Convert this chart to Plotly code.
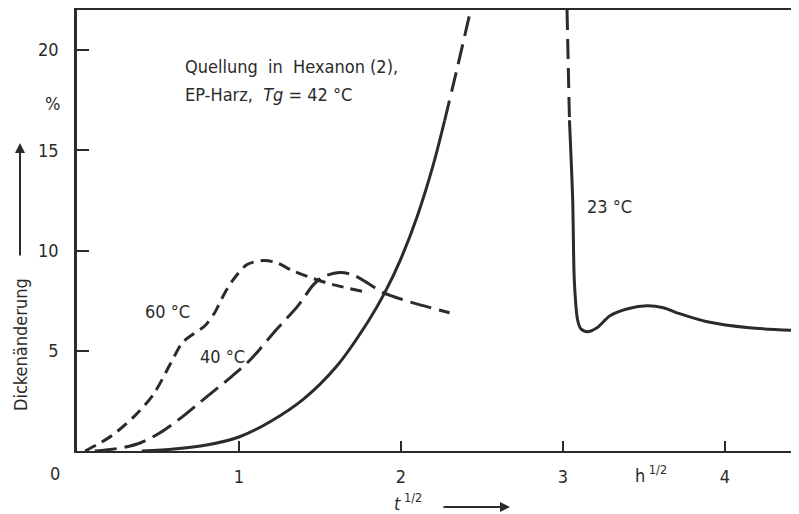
import plotly.graph_objects as go

# ---- data ----
x60 = [0.05, 0.12, 0.22, 0.35, 0.47, 0.58, 0.65, 0.72, 0.79, 0.85, 0.90, 0.96, 1.05, 1.15, 1.23, 1.33, 1.46, 1.58, 1.80]
y60 = [0.0, 0.3, 0.8, 1.7, 2.8, 4.4, 5.4, 5.85, 6.25, 6.9, 7.7, 8.5, 9.3, 9.5, 9.4, 9.0, 8.6, 8.3, 7.9]

x40 = [0.11, 0.27, 0.39, 0.51, 0.65, 0.80, 0.93, 1.07, 1.23, 1.36, 1.46, 1.52, 1.62, 1.70, 1.79, 1.89, 2.07, 2.30]
y40 = [0.0, 0.15, 0.4, 0.9, 1.7, 2.7, 3.55, 4.55, 6.05, 7.2, 8.3, 8.7, 8.9, 8.8, 8.4, 7.9, 7.4, 6.9]

x23a_solid = [0.40, 0.60, 0.80, 1.00, 1.20, 1.40, 1.60, 1.80, 1.90, 2.00, 2.10, 2.20, 2.27]
y23a_solid = [0.0, 0.1, 0.3, 0.7, 1.5, 2.6, 4.2, 6.5, 7.9, 9.6, 11.7, 14.3, 16.5]
x23a_dash = [2.27, 2.35, 2.43]
y23a_dash = [16.5, 19.2, 22.0]

x23b_dash = [3.025, 3.04]
y23b_dash = [22.0, 16.5]
x23b_solid = [3.04, 3.06, 3.07, 3.09, 3.11, 3.15, 3.21, 3.29, 3.40, 3.52, 3.62, 3.72, 3.89, 4.15, 4.46]
y23b_solid = [16.5, 12.5, 8.5, 6.55, 6.1, 5.95, 6.15, 6.75, 7.1, 7.25, 7.15, 6.85, 6.45, 6.15, 6.0]

x_ticks = [1, 2, 3, 4]
x_tick_labels = ["1", "2", "3", "4"]
y_ticks = [5, 10, 15, 20]
y_tick_labels = ["5", "10", "15", "20"]

INK = "#2b2b2b"
FONT = "DejaVu Sans Condensed, Liberation Sans Narrow, DejaVu Sans, sans-serif"

fig = go.Figure()

def add(x, y, dash, width=3):
    fig.add_trace(go.Scatter(x=x, y=y, mode="lines",
                             line=dict(color=INK, width=width, dash=dash,
                                       shape="spline", smoothing=0.8),
                             showlegend=False, hoverinfo="skip"))

add(x60, y60, "12px,7px")
add(x40, y40, "22px,8px")
add(x23a_solid, y23a_solid, "solid")
add(x23a_dash, y23a_dash, "20px,9px")
add(x23b_dash, y23b_dash, "20px,9px")
add(x23b_solid, y23b_solid, "solid")

# page body adds an 8px offset; plot area in screenshot pixels: x 77..799, y 10..451
OFF = 8
PL, PT, PR, PB = 77, 10, 799, 451
W, H = 799 - OFF, 514 - OFF
L, T = PL - OFF, PT - OFF
B = H - (PB - OFF)
pw, ph = PR - PL, PB - PT

def px(xp):
    return (xp - PL) / pw

def py(yp):
    return (PB - yp) / ph

f = dict(family=FONT, size=18, color=INK)

def lab(x, y, text, xref="paper", yref="paper", **kw):
    d = dict(x=x, y=y, xref=xref, yref=yref, text=text, showarrow=False,
             xanchor="center", yanchor="middle", font=f)
    d.update(kw)
    return d

ann = [
    lab(0.654, 19.2, "Quellung  in  Hexanon (2),", "x", "y", xanchor="left"),
    lab(0.654, 17.8, "EP-Harz,  <i>Tg</i> = 42 °C", "x", "y", xanchor="left"),
    lab(0.56, 6.95, "60 °C", "x", "y"),
    lab(0.90, 4.7, "40 °C", "x", "y"),
    lab(3.29, 12.2, "23 °C", "x", "y"),
    lab(px(55), py(474), "0"),
    lab(px(52), py(103), "%"),
    lab(px(651), py(474), "h<sup> 1/2</sup>"),
    lab(px(408), py(502), "<i>t</i><sup> 1/2</sup>"),
    lab(px(20), py(345), "Dickenänderung", textangle=-90),
    # x-axis arrow
    dict(x=px(510), y=py(507), xref="paper", yref="paper", text="", showarrow=True,
         ax=-68, ay=0, arrowhead=2, arrowsize=1, arrowwidth=2, arrowcolor=INK),
    # y-label arrow
    dict(x=px(20), y=py(143), xref="paper", yref="paper", text="", showarrow=True,
         ax=0, ay=114, arrowhead=2, arrowsize=1, arrowwidth=2, arrowcolor=INK),
]

fig.update_layout(
    width=W, height=H,
    margin=dict(l=L, r=0, t=T, b=B, pad=0),
    paper_bgcolor="white", plot_bgcolor="white",
    font=f,
    annotations=ann,
    xaxis=dict(range=[0, 4.457], tickvals=x_ticks, ticktext=x_tick_labels,
               ticks="inside", ticklen=10, tickwidth=2, tickcolor=INK,
               showline=True, linewidth=2, linecolor=INK, mirror=True,
               showgrid=False, zeroline=False, ticklabelstandoff=8,
               tickfont=f),
    yaxis=dict(range=[0, 22], tickvals=y_ticks, ticktext=y_tick_labels,
               ticks="inside", ticklen=12, tickwidth=2, tickcolor=INK,
               showline=True, linewidth=2.5, linecolor=INK,
               showgrid=False, zeroline=False, ticklabelstandoff=12,
               tickfont=f),
)

fig.write_html("out.html")
